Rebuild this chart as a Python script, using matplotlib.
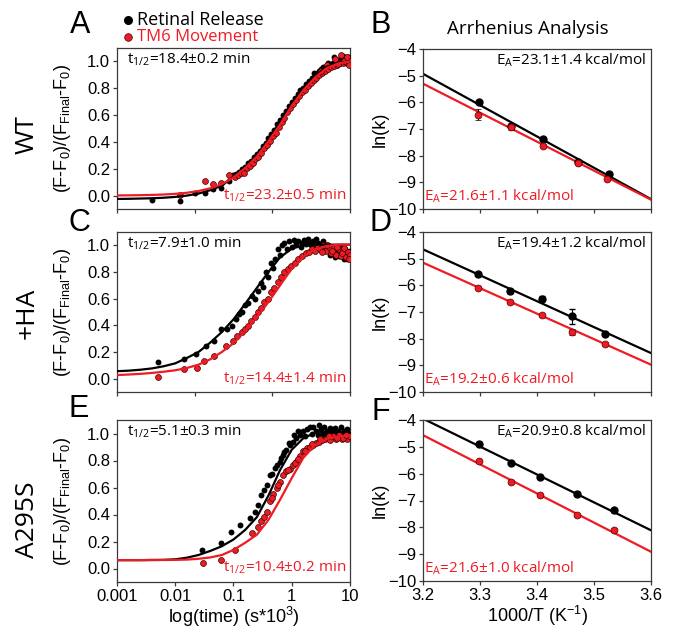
import matplotlib
matplotlib.use("Agg")
import matplotlib.pyplot as plt
from matplotlib.lines import Line2D

RED = '#ed1c24'
TXT = 'Open Sans'

# tiempos en s*10^3
fit_t = [0.001, 0.00158, 0.00251, 0.00398, 0.00631, 0.01, 0.0158, 0.0251, 0.0398, 0.0631,
         0.1, 0.158, 0.251, 0.398, 0.631, 1.0, 1.58, 2.51, 3.98, 6.31, 10.0]

# Panel A (WT)
fitA_black = [-0.025, -0.024, -0.022, -0.02, -0.016, -0.01, 0.0, 0.015, 0.04, 0.075,
              0.14, 0.21, 0.30, 0.42, 0.55, 0.69, 0.80, 0.89, 0.96, 0.99, 1.0]
fitA_red = [0.001, 0.002, 0.003, 0.005, 0.008, 0.013, 0.021, 0.034, 0.054, 0.085,
            0.135, 0.205, 0.29, 0.405, 0.53, 0.67, 0.785, 0.88, 0.95, 0.985, 1.0]
A_black_t = [0.0040, 0.0119, 0.0215, 0.032, 0.045, 0.061, 0.085, 0.100, 0.112, 0.126, 0.141,
             0.158, 0.178, 0.200, 0.224, 0.251, 0.282, 0.316, 0.355, 0.398, 0.447, 0.501,
             0.562, 0.631, 0.708, 0.794, 0.891, 1.00, 1.12, 1.26, 1.41, 1.58, 1.78, 2.00,
             2.24, 2.51, 2.82, 3.16, 3.55, 3.98, 4.47, 5.01, 5.62, 6.31, 7.08, 7.94, 8.91, 9.6,
             2.4, 2.9, 3.4, 4.2, 5.3, 6.0, 6.7, 7.5, 8.4, 9.2]
A_black_y = [-0.032, -0.040, 0.020, 0.022, 0.048, 0.060, 0.105, 0.150, 0.160, 0.175, 0.200,
             0.215, 0.240, 0.255, 0.285, 0.310, 0.335, 0.370, 0.395, 0.430, 0.460, 0.490,
             0.530, 0.560, 0.600, 0.630, 0.665, 0.700, 0.730, 0.755, 0.785, 0.805, 0.835, 0.855,
             0.880, 0.900, 0.915, 0.940, 0.950, 0.970, 0.975, 0.990, 0.990, 1.000, 1.010, 1.000,
             1.010, 1.020,
             0.91, 0.93, 0.96, 0.99, 1.03, 0.98, 1.02, 1.04, 0.99, 1.03]
A_red_t = [0.0119, 0.032, 0.045, 0.061, 0.085, 0.106, 0.119, 0.133, 0.150, 0.168, 0.189, 0.212,
           0.237, 0.266, 0.299, 0.335, 0.376, 0.422, 0.473, 0.531, 0.596, 0.668, 0.750, 0.841,
           0.944, 1.06, 1.19, 1.33, 1.50, 1.68, 1.88, 2.11, 2.37, 2.66, 2.99, 3.35, 3.76, 4.22,
           4.73, 5.31, 5.96, 6.68, 7.50, 8.41, 9.44,
           3.2, 4.0, 5.6, 6.3, 7.1, 8.0, 8.8, 9.8]
A_red_y = [0.005, 0.105, 0.085, 0.097, 0.155, 0.14, 0.15, 0.165, 0.17, 0.205, 0.22, 0.245,
           0.27, 0.29, 0.32, 0.355, 0.38, 0.41, 0.445, 0.47, 0.51, 0.545, 0.58, 0.62,
           0.65, 0.685, 0.71, 0.745, 0.77, 0.79, 0.815, 0.84, 0.86, 0.88, 0.90, 0.915, 0.93, 0.945,
           0.955, 0.965, 0.975, 0.985, 0.99, 0.995, 1.0,
           0.93, 0.97, 1.02, 0.98, 1.05, 1.0, 1.03, 0.97]

# Panel C (+HA)
fitC_black = [0.056, 0.06, 0.067, 0.077, 0.093, 0.115, 0.155, 0.20, 0.27, 0.35,
              0.445, 0.56, 0.68, 0.80, 0.91, 0.975, 1.0, 1.005, 1.005, 1.005, 1.005]
fitC_red = [0.027, 0.031, 0.036, 0.043, 0.052, 0.063, 0.08, 0.105, 0.145, 0.20,
            0.265, 0.355, 0.46, 0.575, 0.70, 0.825, 0.915, 0.97, 0.995, 1.005, 1.005]
C_black_t = [0.0051, 0.0139, 0.0227, 0.0343, 0.046, 0.060, 0.076, 0.095, 0.110, 0.124, 0.14,
             0.16, 0.18, 0.21, 0.23, 0.26, 0.295, 0.32, 0.36, 0.39, 0.44, 0.48, 0.52, 0.57,
             0.62, 0.68, 0.75, 0.82, 0.90, 1.0, 1.1, 1.2, 1.3, 1.45, 1.6, 1.75, 1.9, 2.1, 2.3,
             2.5, 2.8, 3.1, 3.4, 3.8, 4.2, 4.6, 5.0, 5.5, 6.0, 6.6, 7.2, 7.9, 8.6, 9.3, 9.9,
             1.5, 2.0, 2.6, 3.6, 4.4, 5.2, 6.3, 7.5, 8.2, 9.0]
C_black_y = [0.126, 0.146, 0.186, 0.245, 0.284, 0.372, 0.370, 0.397, 0.450, 0.484, 0.50,
             0.55, 0.57, 0.62, 0.60, 0.66, 0.72, 0.69, 0.80, 0.76, 0.87, 0.83, 0.90, 0.97,
             0.93, 1.00, 1.02, 0.97, 1.03, 0.99, 1.04, 1.01, 1.03, 0.99, 1.04, 1.01, 1.05, 1.00,
             1.03, 0.98, 1.02, 0.99, 1.03, 0.97, 1.00, 0.93, 0.98, 0.91, 0.96, 0.92, 0.98, 0.90,
             0.95, 0.92, 0.96,
             1.02, 1.02, 1.05, 1.01, 0.96, 0.95, 0.99, 0.93, 0.97, 0.90]
C_red_t = [0.0051, 0.0139, 0.0237, 0.031, 0.046, 0.0752, 0.10, 0.117, 0.14, 0.16, 0.174, 0.20,
           0.23, 0.26, 0.30, 0.34, 0.39, 0.44, 0.50, 0.57, 0.65, 0.75, 0.86, 0.98, 1.12, 1.28,
           1.5, 1.75, 2.0, 2.2, 2.5, 2.8, 3.1, 3.5, 3.9, 4.3, 4.8, 5.3, 5.8, 6.4, 7.0, 7.7,
           8.5, 9.2, 9.9,
           3.3, 4.0, 5.0, 6.0, 7.3, 8.0, 9.5]
C_red_y = [0.014, 0.071, 0.077, 0.134, 0.171, 0.246, 0.28, 0.321, 0.35, 0.37, 0.396, 0.43,
           0.46, 0.497, 0.53, 0.572, 0.60, 0.647, 0.68, 0.722, 0.76, 0.797, 0.82, 0.847, 0.87,
           0.897, 0.92, 0.94, 0.95, 0.97, 0.96, 0.99, 0.97, 1.00, 0.96, 0.99, 0.94, 0.98, 0.93,
           0.97, 0.92, 0.96, 0.91, 0.95, 0.93,
           0.95, 1.00, 0.96, 0.99, 0.94, 0.98, 0.90]

# Panel E (A295S)
fitE_black = [0.062, 0.062, 0.062, 0.063, 0.064, 0.068, 0.08, 0.10, 0.13, 0.165,
              0.215, 0.285, 0.38, 0.54, 0.73, 0.88, 0.965, 1.005, 1.012, 1.012, 1.012]
fitE_red = [0.062, 0.062, 0.062, 0.063, 0.063, 0.064, 0.066, 0.072, 0.082, 0.10,
            0.138, 0.19, 0.25, 0.36, 0.51, 0.67, 0.82, 0.915, 0.96, 0.978, 0.985]
E_black_t = [0.0293, 0.062, 0.092, 0.129, 0.19, 0.232, 0.26, 0.30, 0.335, 0.369, 0.42, 0.46,
             0.51, 0.56, 0.62, 0.71, 0.80, 0.93, 1.05, 1.2, 1.38, 1.57, 1.8, 2.05, 2.33, 2.6,
             2.9, 3.2, 3.6, 4.0, 4.5, 5.0, 5.6, 6.3, 7.1, 8.0, 8.9, 9.7,
             0.65, 0.75, 0.88, 1.1, 1.3, 1.7, 2.2, 2.8, 3.4, 4.2, 5.3, 6.7]
E_black_y = [0.136, 0.187, 0.269, 0.323, 0.373, 0.422, 0.47, 0.545, 0.58, 0.62, 0.693, 0.70,
             0.743, 0.77, 0.79, 0.84, 0.88, 0.916, 0.94, 0.965, 0.99, 1.015, 1.03, 1.05, 1.05,
             1.02, 1.06, 1.03, 1.05, 1.02, 1.04, 1.01, 1.04, 1.02, 1.05, 1.02, 1.03, 1.00,
             0.82, 0.86, 0.93, 0.99, 1.02, 0.98, 1.00, 0.99, 1.00, 0.99, 1.00, 0.99]
E_red_t = [0.0302, 0.062, 0.105, 0.204, 0.265, 0.30, 0.369, 0.42, 0.48, 0.55, 0.62, 0.71,
           0.80, 0.93, 1.05, 1.2, 1.38, 1.57, 1.8, 2.05, 2.33, 2.6, 2.9, 3.3, 3.7, 4.1, 4.6,
           5.1, 5.7, 6.4, 7.2, 8.1, 9.0, 9.8,
           0.33, 0.45, 0.58, 0.85, 1.12, 1.3, 1.7, 2.2, 3.0, 4.4, 6.0, 7.6, 8.6]
E_red_y = [0.039, 0.064, 0.138, 0.26, 0.31, 0.35, 0.42, 0.50, 0.55, 0.60, 0.64, 0.69,
           0.72, 0.74, 0.77, 0.79, 0.83, 0.867, 0.89, 0.90, 0.916, 0.93, 0.94, 0.95, 0.96, 0.97,
           0.95, 0.98, 0.96, 0.99, 0.96, 0.98, 0.96, 0.98,
           0.38, 0.52, 0.62, 0.73, 0.78, 0.81, 0.87, 0.92, 0.96, 0.98, 0.97, 0.97, 0.99]

# Arrhenius (1000/T, ln k)
arr_line_x = [3.2, 3.6]
B_black_x = [3.299, 3.354, 3.411, 3.472, 3.527]
B_black_y = [-6.0, -6.875, -7.375, -8.23, -8.675]
B_black_err = [0.05, 0.08, 0.05, 0.05, 0.05]
B_red_x = [3.297, 3.354, 3.411, 3.472, 3.522]
B_red_y = [-6.46, -6.92, -7.625, -8.275, -8.875]
B_red_err = [0.2, 0.1, 0.05, 0.05, 0.05]
B_black_line = [-4.93, -9.63]
B_red_line = [-5.3, -9.65]

D_black_x = [3.297, 3.353, 3.408, 3.461, 3.52]
D_black_y = [-5.59, -6.21, -6.5, -7.16, -7.81]
D_black_err = [0.05, 0.08, 0.1, 0.28, 0.05]
D_red_x = [3.297, 3.353, 3.408, 3.461, 3.52]
D_red_y = [-6.09, -6.625, -7.125, -7.75, -8.19]
D_red_err = [0.05, 0.05, 0.05, 0.1, 0.05]
D_black_line = [-4.65, -8.54]
D_red_line = [-5.15, -8.975]

F_x = [3.299, 3.355, 3.405, 3.47, 3.535]
F_black_y = [-4.876, -5.6, -6.13, -6.74, -7.37]
F_red_y = [-5.53, -6.32, -6.8, -7.55, -8.09]
F_err = [0.05, 0.05, 0.05, 0.05, 0.05]
F_black_line = [-3.95, -8.11]
F_red_line = [-4.565, -8.91]

plt.rcParams['font.family'] = ['Liberation Sans', 'DejaVu Sans']
plt.rcParams['font.size'] = 12

fig = plt.figure(figsize=(6.8, 6.31), dpi=100)

def rect(l, t, w, h):
    return [l / 680, 1 - (t + h) / 631, w / 680, h / 631]

axA = fig.add_axes(rect(117, 48, 233, 161))
axB = fig.add_axes(rect(423, 49, 228, 160))
axC = fig.add_axes(rect(117, 232, 233, 160))
axD = fig.add_axes(rect(423, 232, 228, 160))
axE = fig.add_axes(rect(117, 420, 233, 162))
axF = fig.add_axes(rect(423, 420, 228, 161))

def style(ax):
    for s in ax.spines.values():
        s.set_color('#3a3a3a')
        s.set_linewidth(0.9)
    ax.tick_params(direction='out', length=3, width=0.9, color='#3a3a3a', labelsize=12, pad=2)

def kinetics(ax, fb, fr, bt, by, rt, ry, tb, tr, last=False):
    ax.scatter(bt, by, s=18, color='black', zorder=3, linewidths=0)
    ax.scatter(rt, ry, s=18, color=RED, edgecolors='#3a0000', linewidths=0.5, zorder=4)
    ax.plot(fit_t, fb, color='black', lw=1.6, zorder=5)
    ax.plot(fit_t, fr, color=RED, lw=1.6, zorder=6)
    ax.set_xscale('log')
    ax.set_xlim(0.001, 10)
    ax.set_ylim(-0.1, 1.1)
    ax.set_yticks([0, 0.2, 0.4, 0.6, 0.8, 1.0])
    ax.set_yticklabels(['0.0', '0.2', '0.4', '0.6', '0.8', '1.0'])
    ax.minorticks_off()
    if last:
        ax.set_xticks([0.001, 0.01, 0.1, 1, 10])
        ax.set_xticklabels(['0.001', '0.01', '0.1', '1', '10'])
        ax.set_xlabel(r'log(time) (s*10$\mathregular{^3}$)', fontsize=13, labelpad=1)
    else:
        ax.set_xticks([0.001, 0.0215, 0.464, 10])
        ax.set_xticklabels([])
    ax.set_ylabel(r'(F-F$\mathregular{_0}$)/(F$\mathregular{_{Final}}$-F$\mathregular{_0}$)',
                  fontsize=13)
    ax.yaxis.set_label_coords(-0.19, 0.5)
    ax.text(0.045, 0.925, r'$\mathregular{t_{1/2}}$' + tb, transform=ax.transAxes,
            ha='left', va='center', fontsize=11, family=TXT)
    ax.text(0.985, 0.085, r'$\mathregular{t_{1/2}}$' + tr, transform=ax.transAxes,
            ha='right', va='center', fontsize=11, family=TXT, color=RED)
    style(ax)

def arrhenius(ax, bx, by, be, rx, ry, re, bl, rl, eb, er, last=False):
    ax.plot(arr_line_x, bl, color='black', lw=1.6, zorder=2)
    ax.plot(arr_line_x, rl, color=RED, lw=1.6, zorder=2)
    ax.errorbar(bx, by, yerr=be, fmt='o', color='black', ms=5, capsize=2, elinewidth=0.8, zorder=3)
    ax.errorbar(rx, ry, yerr=re, fmt='o', color=RED, mec='#5a0000', mew=0.5, ecolor='black',
                ms=5, capsize=2, elinewidth=0.8, zorder=4)
    ax.set_xlim(3.2, 3.6)
    ax.set_ylim(-10, -4)
    ax.set_yticks([-10, -9, -8, -7, -6, -5, -4])
    ax.set_xticks([3.2, 3.3, 3.4, 3.5, 3.6])
    if last:
        ax.set_xlabel(r'1000/T (K$\mathregular{^{-1}}$)', fontsize=13, labelpad=1)
    else:
        ax.set_xticklabels([])
    ax.set_ylabel('ln(k)', fontsize=13)
    ax.yaxis.set_label_coords(-0.15, 0.5)
    ax.text(0.978, 0.93, r'$\mathregular{E_A}$' + eb, transform=ax.transAxes,
            ha='right', va='center', fontsize=11, family=TXT)
    ax.text(0.005, 0.08, r'$\mathregular{E_A}$' + er, transform=ax.transAxes,
            ha='left', va='center', fontsize=11, family=TXT, color=RED)
    style(ax)

kinetics(axA, fitA_black, fitA_red, A_black_t, A_black_y, A_red_t, A_red_y,
         '=18.4±0.2 min', '=23.2±0.5 min')
kinetics(axC, fitC_black, fitC_red, C_black_t, C_black_y, C_red_t, C_red_y,
         '=7.9±1.0 min', '=14.4±1.4 min')
kinetics(axE, fitE_black, fitE_red, E_black_t, E_black_y, E_red_t, E_red_y,
         '=5.1±0.3 min', '=10.4±0.2 min', last=True)

arrhenius(axB, B_black_x, B_black_y, B_black_err, B_red_x, B_red_y, B_red_err,
          B_black_line, B_red_line, '=23.1±1.4 kcal/mol', '=21.6±1.1 kcal/mol')
arrhenius(axD, D_black_x, D_black_y, D_black_err, D_red_x, D_red_y, D_red_err,
          D_black_line, D_red_line, '=19.4±1.2 kcal/mol', '=19.2±0.6 kcal/mol')
arrhenius(axF, F_x, F_black_y, F_err, F_x, F_red_y, F_err,
          F_black_line, F_red_line, '=20.9±0.8 kcal/mol', '=21.6±1.0 kcal/mol', last=True)

# letras de panel
for lab, x, y in [('A', 80, 25), ('B', 381, 25), ('C', 79, 223), ('D', 380, 223),
                  ('E', 79, 409), ('F', 381, 412)]:
    fig.text(x / 680, 1 - y / 631, lab, fontsize=22, ha='center', va='center')

# etiquetas de fila
for lab, y in [('WT', 135), ('+HA', 313), ('A295S', 520)]:
    fig.text(27 / 680, 1 - y / 631, lab, fontsize=19, rotation=90, ha='center', va='center',
             family=TXT)

# leyenda
fig.add_artist(Line2D([128 / 680], [1 - 20 / 631], marker='o', color='black', ms=5.5,
                      transform=fig.transFigure))
fig.add_artist(Line2D([128 / 680], [1 - 37 / 631], marker='o', color=RED, mec='#3a0000',
                      mew=0.5, ms=5.5, transform=fig.transFigure))
fig.text(137 / 680, 1 - 20 / 631, 'Retinal Release', fontsize=13, ha='left', va='center',
         family=TXT)
fig.text(137 / 680, 1 - 37 / 631, 'TM6 Movement', fontsize=12, ha='left', va='center',
         family=TXT, color=RED)
fig.text(528 / 680, 1 - 29 / 631, 'Arrhenius Analysis', fontsize=13.5, ha='center', va='center',
         family=TXT)

fig.savefig('out.png', dpi=100)
